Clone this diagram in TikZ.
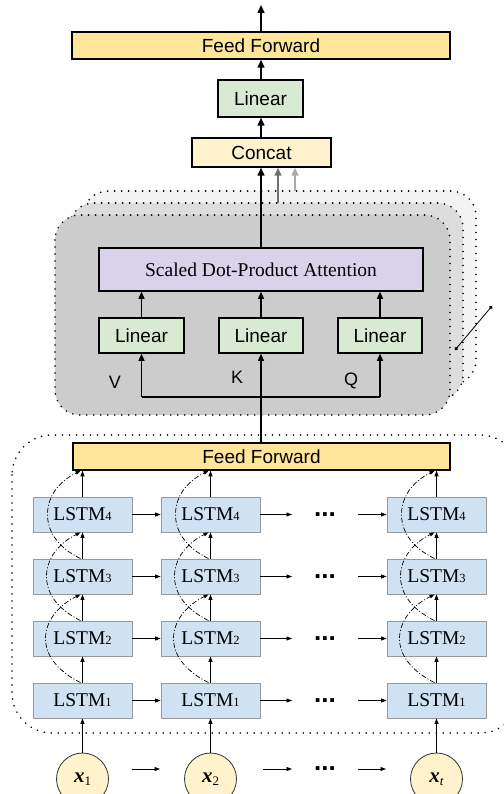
\documentclass[tikz,border=0pt]{standalone}
\usepackage{fontspec}
\setmainfont{Liberation Serif}
\setsansfont{Liberation Sans}
\usetikzlibrary{arrows.meta}
\definecolor{ffyel}{HTML}{FFE599}
\definecolor{concatc}{HTML}{FFF2CC}
\definecolor{lingreen}{HTML}{D9EAD3}
\definecolor{sdpac}{HTML}{D9D2E9}
\definecolor{lstmc}{HTML}{CFE2F3}
\definecolor{lstmb}{HTML}{999999}
\definecolor{layerA}{HTML}{CCCCCC}
\definecolor{layerB}{HTML}{DDDDDD}
\definecolor{layerC}{HTML}{F3F3F3}
\definecolor{darkg}{HTML}{707070}
\definecolor{lightg}{HTML}{AAAAAA}
\tikzset{
  bigbox/.style={draw=black, line width=1.5pt, inner sep=0pt, font=\sffamily\fontsize{19}{19}\selectfont},
  lstm/.style={draw=lstmb, fill=lstmc, line width=0.8pt, inner sep=0pt, minimum width=99pt, minimum height=35pt, font=\fontsize{19.5}{19.5}\selectfont},
  xin/.style={circle, draw=black!80, fill=concatc, line width=0.8pt, minimum size=52pt, inner sep=0pt},
  thick arr/.style={line width=1.5pt, -{Triangle[length=8pt,width=7pt]}},
  thin arr/.style={line width=0.8pt, -{Triangle[length=5.5pt,width=4pt]}},
  mid arr/.style={line width=1.2pt, -{Triangle[length=7pt,width=6pt]}},
  dotline/.style={line cap=round, dash pattern=on 0pt off 7pt, line width=1.8pt},
  skipline/.style={line width=0.7pt, dash pattern=on 5pt off 2pt on 1pt off 2pt, -{Triangle[length=5pt,width=3.5pt]}},
  dotsn/.style={font=\sffamily\bfseries\fontsize{26}{26}\selectfont, inner sep=0pt},
  lbl/.style={font=\sffamily\fontsize{18}{18}\selectfont, inner sep=0pt}
}
\newcommand{\lstmtxt}[1]{LSTM{\fontsize{12.5}{12.5}\selectfont #1}}
\newcommand{\xlab}[1]{{\fontsize{21}{21}\selectfont\bfseries\itshape x}\raisebox{-3pt}{\fontsize{13}{13}\selectfont #1}}
\begin{document}
\begin{tikzpicture}[x=1pt,y=-1pt]
\useasboundingbox (0,0) rectangle (503,794);
% stacked attention layers
\draw[dotline, fill=layerC, rounded corners=25pt] (83,191) rectangle (476,385);
\draw[dotline, fill=layerB, rounded corners=25pt] (69,203) rectangle (463,400);
\draw[dotline, fill=layerA, rounded corners=25pt] (55,215) rectangle (450,415);
% encoder frame
\draw[dotline, rounded corners=40pt] (12,435) rectangle (520,733);

% top part
\coordinate (out) at (261,5);
\node[bigbox, fill=ffyel, minimum width=378pt, minimum height=27pt] (fftop) at (261,45.5) {Feed Forward};
\node[bigbox, fill=lingreen, minimum width=85pt, minimum height=37pt] (lintop) at (260.5,98.5) {Linear};
\node[bigbox, fill=concatc, minimum width=139pt, minimum height=29pt] (concat) at (261.5,152.5) {Concat};
\draw[thick arr] (fftop.north -| out) -- (out);
\draw[thick arr] (lintop.north -| out) -- (fftop.south -| out);
\draw[thick arr] (concat.north -| out) -- (lintop.south -| out);

% attention
\node[bigbox, fill=sdpac, minimum width=324pt, minimum height=43pt, font=\fontsize{19.5}{19.5}\selectfont] (sdpa) at (261,269.5) {Scaled Dot-Product Attention};
\node[bigbox, fill=lingreen, minimum width=85pt, minimum height=35pt] (linV) at (141.5,335.5) {Linear};
\node[bigbox, fill=lingreen, minimum width=84pt, minimum height=35pt] (linK) at (261,335.5) {Linear};
\node[bigbox, fill=lingreen, minimum width=84pt, minimum height=35pt] (linQ) at (380,335.5) {Linear};
\draw[thick arr] (sdpa.north -| out) -- (concat.south -| out);
\coordinate (g1) at (278,203);
\coordinate (g2) at (295,191);
\draw[thick arr, draw=darkg, color=darkg] (g1) -- (concat.south -| g1);
\draw[thick arr, draw=lightg, color=lightg] (g2) -- (concat.south -| g2);
\draw[mid arr] (linV.north) -- (linV.north |- sdpa.south);
\draw[mid arr] (linK.north) -- (linK.north |- sdpa.south);
\draw[mid arr] (linQ.north) -- (linQ.north |- sdpa.south);
\node[lbl] (V) at (115,382) {V};
\node[lbl] (K) at (237,377) {K};
\node[lbl] (Q) at (351,381) {Q};

% heads indicator
\coordinate (h1) at (455,350);
\coordinate (h2) at (492,306);
\draw[line width=0.8pt, {Circle[length=3.5pt]}-{Circle[length=3.5pt]}] (h1) -- (h2);

% encoder feed forward
\node[bigbox, fill=ffyel, minimum width=377pt, minimum height=27pt] (ffb) at (261.5,456.5) {Feed Forward};
\coordinate (br) at (261,397);
\draw[mid arr] (ffb.north -| linK) -- (linK.south);
\draw[line width=1.2pt] (linV.south |- br) -- (linQ.south |- br);
\draw[mid arr] (br -| linV) -- (linV.south);
\draw[mid arr] (br -| linQ) -- (linQ.south);

% LSTM grid
\foreach \c/\x in {1/82.5,2/210.5,3/436.5}{
  \foreach \r/\y in {4/514.5,3/576.5,2/638.5,1/700.5}{
    \node[lstm] (L\c-\r) at (\x,\y) {\lstmtxt{\r}};
  }
}
\node[xin] (x1) at (82.5,779) {\xlab{1}};
\node[xin] (x2) at (210.5,779) {\xlab{2}};
\node[xin] (x3) at (436.5,779) {\xlab{\textit{t}}};

% horizontal arrows
\foreach \r/\y in {4/514.5,3/576.5,2/638.5,1/700.5,0/769}{
  \coordinate (a\r) at (292,\y);
  \coordinate (b\r) at (358,\y);
  \node[dotsn] (d\r) at (325,\y) {...};
}
\foreach \r in {1,2,3,4}{
  \draw[thin arr] (L1-\r.east) -- (L2-\r.west);
  \draw[thin arr] (L2-\r.east) -- (a\r);
  \draw[thin arr] (b\r) -- (L3-\r.west);
}
\coordinate (c0) at (132,769);
\coordinate (e0) at (160,769);
\coordinate (f0) at (263,769);
\coordinate (k0) at (386,769);
\draw[thin arr] (c0) -- (e0);
\draw[thin arr] (f0) -- (a0);
\draw[thin arr] (b0) -- (k0);

% vertical arrows and skip connections
\foreach \c in {1,2,3}{
  \draw[thin arr] (x\c.north) -- (L\c-1.south);
  \draw[thin arr] (L\c-1.north) -- (L\c-2.south);
  \draw[thin arr] (L\c-2.north) -- (L\c-3.south);
  \draw[thin arr] (L\c-3.north) -- (L\c-4.south);
  \draw[thin arr] (L\c-4.north) -- (ffb.south -| L\c-4.north);
  \draw[skipline] ([xshift=-2pt]L\c-1.north) .. controls +(-24,-12) and +(0,16) .. ([xshift=-37pt]L\c-2.center) .. controls +(0,-16) and +(-24,12) .. ([xshift=-2pt]L\c-3.south);
  \draw[skipline] ([xshift=-2pt]L\c-2.north) .. controls +(-24,-12) and +(0,16) .. ([xshift=-36pt]L\c-3.center) .. controls +(0,-16) and +(-24,12) .. ([xshift=-2pt]L\c-4.south);
  \draw[skipline] ([xshift=-2pt]L\c-3.north) .. controls +(-24,-12) and +(0,16) .. ([xshift=-35pt]L\c-4.center) .. controls +(0,-16) and +(-24,12) .. ([xshift=-2pt]ffb.south -| L\c-4.north);
}
\end{tikzpicture}
\end{document}
